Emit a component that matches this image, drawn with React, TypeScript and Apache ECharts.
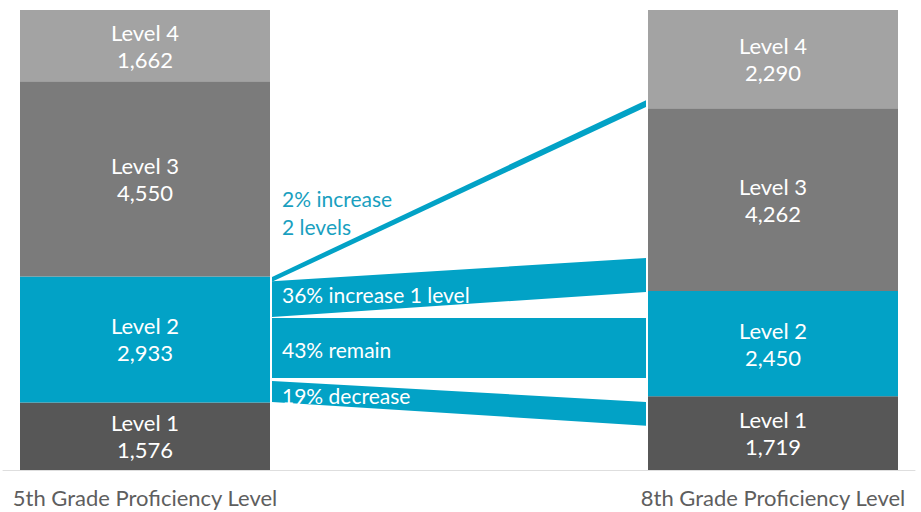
import React, { useEffect, useRef } from "react";
import * as echarts from "echarts";

const levels = ["Level 1", "Level 2", "Level 3", "Level 4"];
const grades = ["5th Grade Proficiency Level", "8th Grade Proficiency Level"];
const grade5 = [1576, 2933, 4550, 1662];
const grade8 = [1719, 2450, 4262, 2290];
const levelColors = ["#575757", "#02a2c6", "#7b7b7b", "#a3a3a3"];

// Flows out of 5th-grade Level 2, in student-count units on the y scale
const flowLabels = ["2% increase\n2 levels", "36% increase 1 level", "43% remain", "19% decrease"];
const flowLabelColors = ["#1a9fc0", "#ffffff", "#ffffff", "#ffffff"];
const flowLeftTop = [4500, 4400, 3543, 2074];
const flowLeftBottom = [4385, 3566, 2144, 1585];
const flowRightTop = [8620, 4941, 3543, 1585];
const flowRightBottom = [8460, 4149, 2144, 1032];
const flowLabelAt = [5990, 4100, 2800, 1725];

const FONT = "Lato, 'Open Sans', sans-serif";
const BAR_PX = 250;
const TEAL = "#02a2c6";

export default function App() {
  const ref = useRef<HTMLDivElement>(null);
  useEffect(() => {
    if (!ref.current) return;
    const chart = echarts.init(ref.current, undefined, { renderer: "svg" });
    const total = grade5.reduce((a, b) => a + b, 0);

    const barSeries = levels.map((name, i) => ({
      type: "bar",
      name,
      stack: "total",
      barWidth: BAR_PX,
      clip: false,
      xAxisIndex: 0,
      yAxisIndex: 0,
      data: [grade5[i], grade8[i]],
      itemStyle: { color: levelColors[i] },
      label: {
        show: true,
        position: "inside",
        color: "#ffffff",
        fontSize: 22,
        lineHeight: 27,
        fontFamily: FONT,
        formatter: (p: any) => `${name}\n${Number(p.value).toLocaleString("en-US")}`,
      },
      emphasis: { disabled: true },
    }));

    const flowData = flowLabels.map((_, i) => [
      0,
      flowLeftTop[i],
      flowLeftBottom[i],
      flowRightTop[i],
      flowRightBottom[i],
      flowLabelAt[i],
    ]);

    const flowSeries = {
      type: "custom",
      coordinateSystem: "cartesian2d",
      xAxisIndex: 0,
      yAxisIndex: 0,
      encode: { x: 0, y: 1 },
      data: flowData,
      clip: false,
      z: 3,
      renderItem: (params: any, api: any) => {
        const idx = params.dataIndex;
        const lt = api.value(1);
        const lb = api.value(2);
        const rt = api.value(3);
        const rb = api.value(4);
        const la = api.value(5);
        const xl = api.coord([0, lt])[0] + BAR_PX / 2 + 2;
        const xr = api.coord([1, rt])[0] - BAR_PX / 2 - 2;
        const pts = [
          [xl, api.coord([0, lt])[1]],
          [xr, api.coord([1, rt])[1]],
          [xr, api.coord([1, rb])[1]],
          [xl, api.coord([0, lb])[1]],
        ];
        return {
          type: "group",
          children: [
            { type: "polygon", shape: { points: pts }, style: { fill: TEAL } },
            {
              type: "text",
              z2: 10,
              style: {
                text: flowLabels[idx],
                x: xl + 10,
                y: api.coord([0, la])[1],
                fill: flowLabelColors[idx],
                fontSize: 21,
                lineHeight: 28,
                fontFamily: FONT,
                verticalAlign: "middle",
                align: "left",
              },
            },
          ],
        };
      },
    };

    chart.setOption({
      animation: false,
      grid: [
        { left: 145, right: 148, top: 10, bottom: 42 },
        { left: 3, right: 6, top: 10, bottom: 42 },
      ],
      xAxis: [
        {
          type: "category",
          gridIndex: 0,
          data: grades,
          boundaryGap: false,
          axisLine: { show: false },
          axisTick: { show: false },
          splitLine: { show: false },
          axisLabel: {
            color: "#5e5e5e",
            fontSize: 22,
            fontFamily: FONT,
            margin: 16,
          },
        },
        {
          type: "value",
          gridIndex: 1,
          axisLine: { show: true, lineStyle: { color: "#dedede", width: 1 } },
          axisTick: { show: false },
          axisLabel: { show: false },
          splitLine: { show: false },
        },
      ],
      yAxis: [
        {
          type: "value",
          gridIndex: 0,
          min: 0,
          max: total,
          show: false,
          splitLine: { show: false },
        },
        {
          type: "value",
          gridIndex: 1,
          show: false,
          splitLine: { show: false },
        },
      ],
      series: [...barSeries, flowSeries],
    } as any);
    return () => chart.dispose();
  }, []);
  return (
    <div
      ref={ref}
      style={{ position: "absolute", left: 0, top: 0, width: 921, height: 512, background: "#ffffff" }}
    />
  );
}
